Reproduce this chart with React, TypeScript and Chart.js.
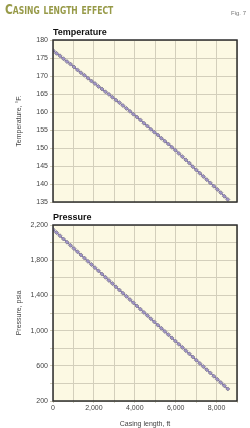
import React, { useEffect, useRef } from "react";
import { Chart, registerables } from "chart.js";

Chart.register(...registerables);

// Casing length (ft)
const casingLength = [
  0, 171, 342, 513, 684, 855, 1026, 1197, 1368, 1539, 1710, 1881, 2052, 2223, 2394, 2565, 2736,
  2907, 3078, 3249, 3420, 3591, 3762, 3933, 4104, 4275, 4446, 4617, 4788, 4959, 5130, 5301, 5472,
  5643, 5814, 5985, 6156, 6327, 6498, 6669, 6840, 7011, 7182, 7353, 7524, 7695, 7866, 8037, 8208,
  8379, 8550,
];
// Temperature (°F)
const temperature = [
  177.1, 176.3, 175.6, 174.8, 174.0, 173.3, 172.5, 171.7, 170.9, 170.2, 169.4, 168.6, 167.9, 167.1,
  166.4, 165.6, 164.9, 164.1, 163.3, 162.6, 161.8, 161.0, 160.2, 159.4, 158.6, 157.8, 156.9, 156.1,
  155.2, 154.4, 153.6, 152.7, 151.9, 151.1, 150.2, 149.4, 148.5, 147.6, 146.7, 145.8, 144.8, 143.9,
  143.0, 142.1, 141.2, 140.3, 139.4, 138.5, 137.6, 136.6, 135.7,
];
// Pressure (psia)
const pressure = [
  2150, 2114, 2078, 2041, 2005, 1969, 1932, 1896, 1860, 1824, 1787, 1751, 1715, 1679, 1642, 1606,
  1570, 1534, 1497, 1461, 1425, 1389, 1352, 1316, 1280, 1244, 1207, 1171, 1135, 1099, 1062, 1026,
  990, 954, 917, 881, 845, 809, 772, 736, 700, 664, 627, 591, 555, 519, 482, 446, 410, 374, 337,
];

const xMin = 0;
const xMax = 9000;
const tempMin = 135;
const tempMax = 180;
const presMin = 200;
const presMax = 2200;

const FONT = "'Liberation Sans', Arial, sans-serif";
const GRID = "#d3cfbb";

const framePlugin = {
  id: "frame",
  beforeDraw(chart: any) {
    const { ctx, chartArea } = chart;
    if (!chartArea) return;
    ctx.save();
    ctx.fillStyle = "#fcf9e3";
    ctx.fillRect(chartArea.left, chartArea.top, chartArea.right - chartArea.left, chartArea.bottom - chartArea.top);
    ctx.restore();
  },
  afterDraw(chart: any) {
    const { ctx, chartArea } = chart;
    ctx.save();
    ctx.strokeStyle = "#2e2e2e";
    ctx.lineWidth = 1.5;
    ctx.strokeRect(chartArea.left, chartArea.top, chartArea.right - chartArea.left, chartArea.bottom - chartArea.top);
    ctx.restore();
  },
};

function dataset(values: number[]) {
  return {
    data: casingLength.map((x, i) => ({ x, y: values[i] })),
    borderColor: "#7262b0",
    borderWidth: 1.2,
    pointStyle: "rectRot",
    pointRadius: 2,
    pointBackgroundColor: "#a093cb",
    pointBorderColor: "#86828f",
    pointBorderWidth: 0.9,
    tension: 0,
  };
}

function makeOptions(top: boolean): any {
  const tickFont = { family: FONT, size: 7 };
  return {
    responsive: false,
    animation: false,
    devicePixelRatio: 1,
    layout: top
      ? { padding: { left: 0, right: 13, top: 40, bottom: 12 } }
      : { padding: { left: 0, right: 13, top: 11, bottom: 0 } },
    plugins: { legend: { display: false }, tooltip: { enabled: false }, title: { display: false } },
    scales: {
      x: {
        type: "linear",
        min: xMin,
        max: xMax,
        border: { display: false },
        grid: { color: GRID, lineWidth: 1, tickLength: 2, drawTicks: !top },
        ticks: {
          display: !top,
          stepSize: 1000,
          autoSkip: false,
          maxRotation: 0,
          padding: 1,
          color: "#444",
          font: tickFont,
          callback: (v: number) => (v % 2000 === 0 ? v.toLocaleString("en-US") : ""),
        },
        title: {
          display: !top,
          text: "Casing length, ft",
          color: "#444",
          font: { family: FONT, size: 7 },
          padding: 0,
        },
        afterFit: (s: any) => {
          s.height = top ? 0 : 27;
        },
      },
      y: {
        type: "linear",
        min: top ? tempMin : presMin,
        max: top ? tempMax : presMax,
        border: { display: false },
        grid: { color: GRID, lineWidth: 1, tickLength: 3 },
        ticks: {
          stepSize: top ? 5 : 200,
          autoSkip: false,
          padding: 2,
          color: "#444",
          font: tickFont,
          callback: (v: number) =>
            top ? String(v) : (v - 200) % 400 === 0 ? v.toLocaleString("en-US") : "",
        },
        title: {
          display: true,
          text: top ? "Temperature, °F." : "Pressure, psia",
          color: "#444",
          font: { family: FONT, size: 7 },
          padding: { top: 15, bottom: 0 },
        },
        afterFit: (s: any) => {
          s.width = 53;
        },
      },
    },
  };
}

function Panel({ top, values }: { top: boolean; values: number[] }) {
  const ref = useRef<HTMLCanvasElement | null>(null);
  useEffect(() => {
    if (!ref.current) return;
    const chart = new Chart(ref.current, {
      type: "line",
      data: { datasets: [dataset(values) as any] },
      options: makeOptions(top),
      plugins: [framePlugin],
    });
    return () => chart.destroy();
  }, []);
  return (
    <canvas
      ref={ref}
      width={250}
      height={214}
      style={{ position: "absolute", left: 0, top: top ? 0 : 214, width: 250, height: 214 }}
    />
  );
}

export default function App() {
  return (
    <div
      style={{
        position: "fixed",
        left: 0,
        top: 0,
        width: 250,
        height: 428,
        background: "#fff",
        overflow: "hidden",
      }}
    >
      <Panel top={true} values={temperature} />
      <Panel top={false} values={pressure} />
      <div
        style={{
          position: "absolute",
          left: 5,
          top: 1,
          fontFamily: "'Liberation Sans Narrow', 'DejaVu Sans Condensed', sans-serif",
          fontWeight: "bold",
          fontSize: 14,
          fontVariant: "small-caps",
          color: "#979a48",
          whiteSpace: "nowrap",
          transform: "scaleX(0.85)",
          transformOrigin: "left top",
          lineHeight: "16px",
        }}
      >
        Casing length effect
      </div>
      <div
        style={{
          position: "absolute",
          right: 4,
          top: 10,
          fontFamily: FONT,
          fontSize: 6,
          color: "#777",
          whiteSpace: "nowrap",
        }}
      >
        Fig. 7
      </div>
      <div
        style={{
          position: "absolute",
          left: 53,
          top: 27,
          fontFamily: FONT,
          fontWeight: "bold",
          fontSize: 9,
          color: "#111",
          lineHeight: "11px",
        }}
      >
        Temperature
      </div>
      <div
        style={{
          position: "absolute",
          left: 53,
          top: 212,
          fontFamily: FONT,
          fontWeight: "bold",
          fontSize: 9,
          color: "#111",
          lineHeight: "11px",
        }}
      >
        Pressure
      </div>
    </div>
  );
}
